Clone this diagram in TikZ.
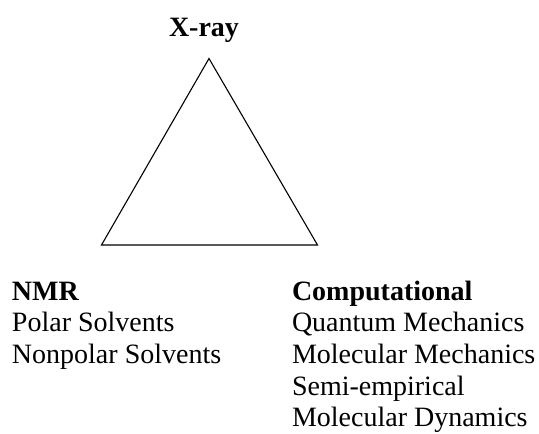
\documentclass[tikz,border=0pt]{standalone}
\usepackage{fontspec}
\setmainfont{Liberation Serif}
\begin{document}
\begin{tikzpicture}[x=1pt,y=-1pt,
  lbl/.style={inner sep=0pt,outer sep=0pt,anchor=base west,font=\fontsize{28}{32}\selectfont},
  hdr/.style={lbl,font=\fontsize{28}{32}\selectfont\bfseries},
  tri/.style={draw=black,line width=1.1pt,line join=miter}]
\useasboundingbox (0,0) rectangle (539,434);
\coordinate (top) at (209,58.5);
\coordinate (bl) at (101.5,245);
\coordinate (br) at (317.5,245);
\draw[tri] (top) -- (bl) -- (br) -- cycle;
\node[hdr,anchor=base] (xray) at (204,36) {X-ray};
\node[hdr] (nmr) at (12,300) {NMR};
\node[lbl] (polar) at (12,331.7) {Polar Solvents};
\node[lbl] (nonpolar) at (12,363.4) {Nonpolar Solvents};
\node[hdr] (comp) at (292,300) {Computational};
\node[lbl] (qm) at (292,331.7) {Quantum Mechanics};
\node[lbl] (mm) at (292,363.4) {Molecular Mechanics};
\node[lbl] (se) at (292,395.1) {Semi-empirical};
\node[lbl] (md) at (292,426.8) {Molecular Dynamics};
\end{tikzpicture}
\end{document}
